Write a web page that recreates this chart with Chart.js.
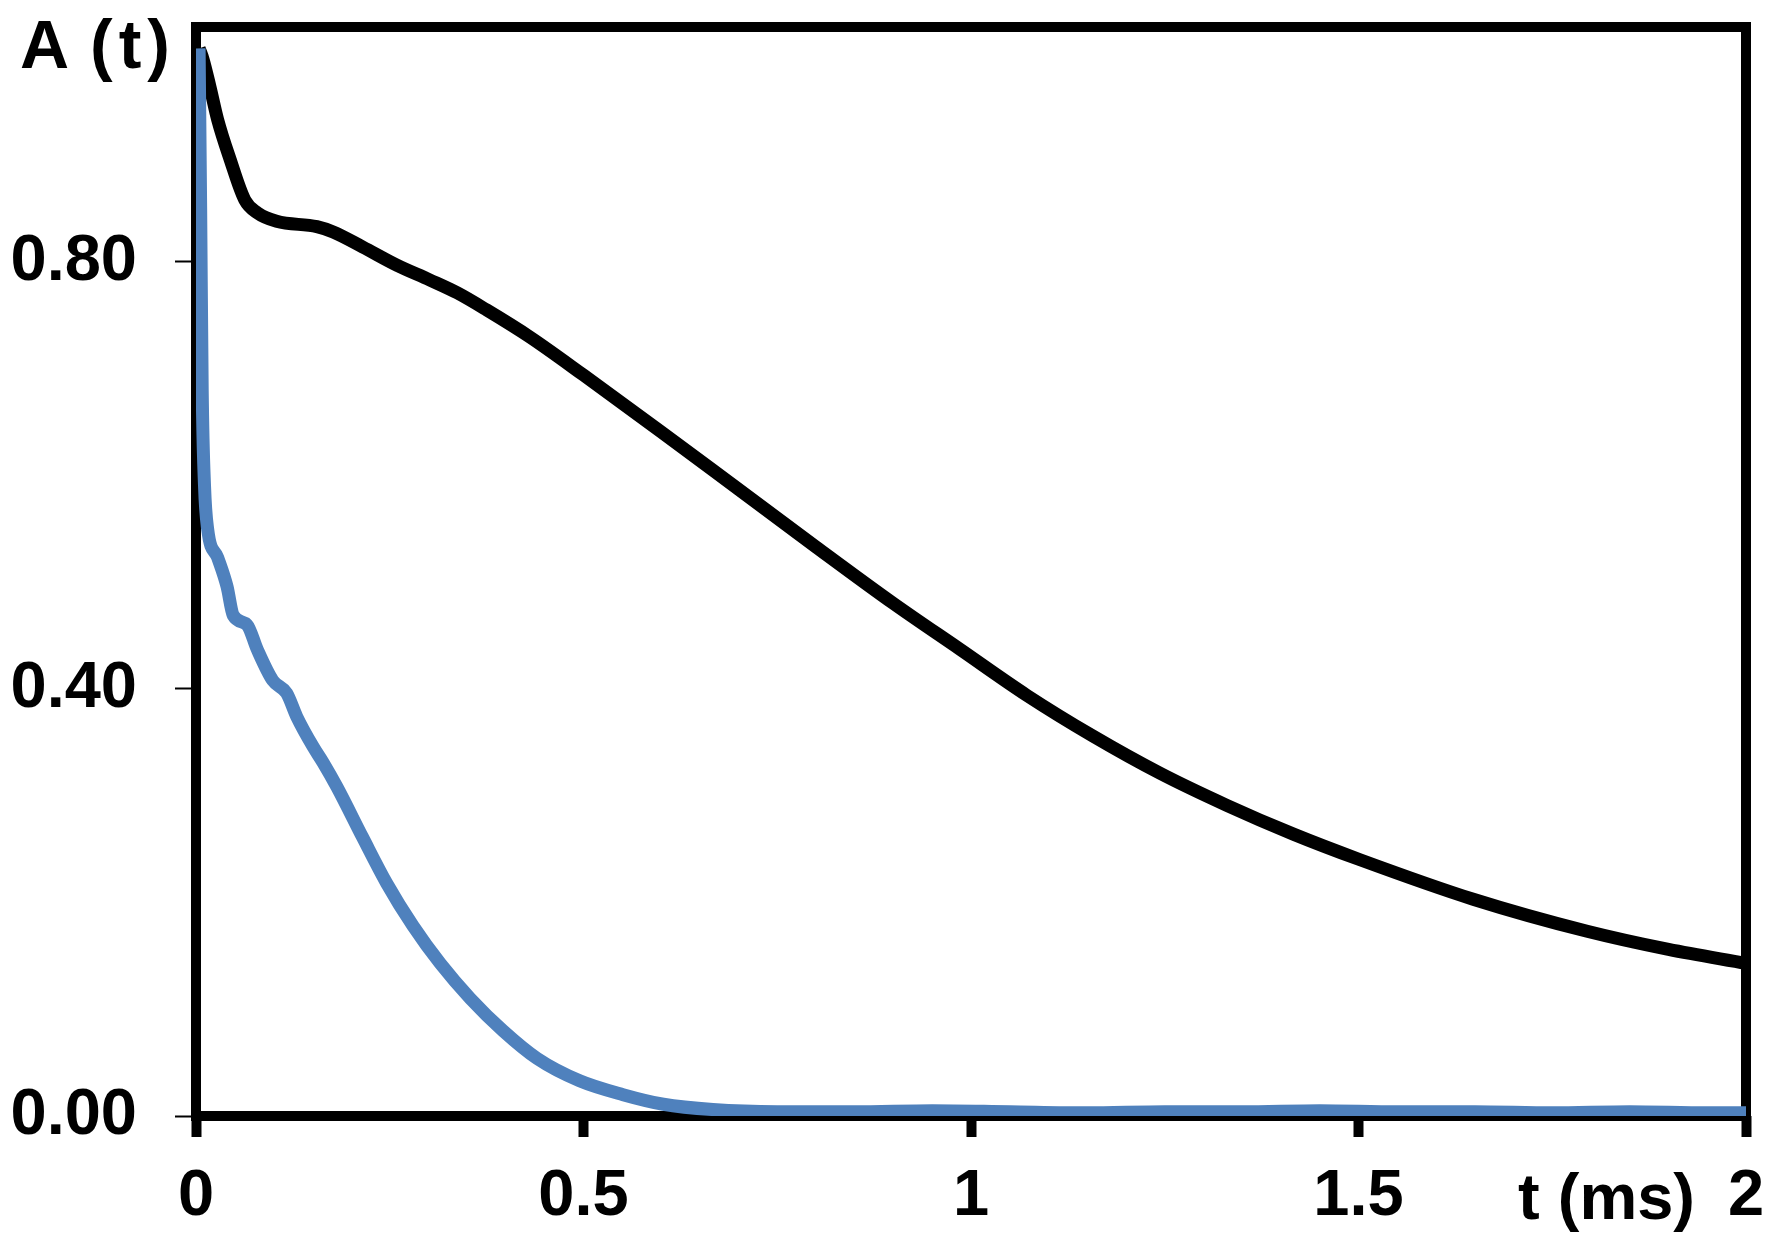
<!DOCTYPE html>
<html>
<head>
<meta charset="utf-8">
<script src="https://cdn.jsdelivr.net/npm/chart.js@4.4.1/dist/chart.umd.min.js"></script>
<style>
  html, body { margin: 0; padding: 0; background: #fff; }
  #wrap { width: 1776px; height: 1241px; }
</style>
</head>
<body>
<div id="wrap"><canvas id="decay-chart" width="1776" height="1241"></canvas></div>
<script>
  // black trace: slow decay with shoulder near 0.15 ms
  var blackTime = [0.004, 0.009, 0.018, 0.028, 0.044, 0.063, 0.079, 0.104, 0.156, 0.177, 0.215, 0.259, 0.302, 0.337, 0.375, 0.43, 0.50, 0.60, 0.70, 0.80, 0.90, 0.986, 1.072, 1.157, 1.244, 1.33, 1.416, 1.502, 1.648, 1.795, 1.9, 2.0];
  var blackAmp  = [1.0, 0.99, 0.964, 0.933, 0.896, 0.858, 0.846, 0.838, 0.833, 0.828, 0.814, 0.797, 0.783, 0.771, 0.755, 0.730, 0.694, 0.641, 0.587, 0.533, 0.480, 0.437, 0.394, 0.356, 0.321, 0.291, 0.264, 0.240, 0.203, 0.173, 0.156, 0.143];

  // blue trace: fast drop then decay to baseline
  var blueTime = [0.004, 0.006, 0.008, 0.011, 0.015, 0.028, 0.040, 0.048, 0.066, 0.079, 0.099, 0.117, 0.130, 0.151, 0.164, 0.182, 0.215, 0.246, 0.280, 0.315, 0.354, 0.396, 0.440, 0.495, 0.551, 0.603, 0.667,
                  0.75, 0.85, 0.95, 1.05, 1.15, 1.25, 1.35, 1.45, 1.55, 1.65, 1.75, 1.85, 1.95, 2.0];
  var blueAmp  = [1.0, 0.85, 0.68, 0.59, 0.55, 0.523, 0.496, 0.469, 0.460, 0.437, 0.408, 0.396, 0.374, 0.346, 0.331, 0.308, 0.261, 0.218, 0.178, 0.143, 0.110, 0.080, 0.054, 0.033, 0.020, 0.011, 0.006,
                  0.004, 0.004, 0.005, 0.004, 0.003, 0.004, 0.004, 0.005, 0.004, 0.004, 0.003, 0.004, 0.003, 0.003];

  var xTicks = [0, 0.5, 1, 1.5, 2];
  var xTickLabels = ['0', '0.5', '1', '1.5', '2'];
  var yTicks = [0, 0.4, 0.8];
  var yTickLabels = ['0.00', '0.40', '0.80'];

  var yTitle = 'A (t)';
  var xTitle = 't (ms)';

  function toPoints(xs, ys) {
    return xs.map(function (x, i) { return { x: x, y: ys[i] }; });
  }

  Chart.defaults.font.family = "'Liberation Sans', Arial, sans-serif";
  Chart.defaults.font.weight = 'bold';
  Chart.defaults.color = '#000';

  var framePlugin = {
    id: 'frame',
    beforeDatasetsDraw: function (chart) {
      var a = chart.chartArea, ctx = chart.ctx;
      ctx.save();
      ctx.strokeStyle = '#000';
      ctx.lineWidth = 10;
      ctx.strokeRect(a.left, a.top, a.right - a.left, a.bottom - a.top);
      ctx.restore();
    },
    afterDraw: function (chart) {
      var ctx = chart.ctx, xs = chart.scales.x;
      var parts = yTitle.split(' ');
      ctx.save();
      ctx.fillStyle = '#000';
      ctx.textBaseline = 'alphabetic';
      ctx.textAlign = 'left';
      ctx.font = "bold 68px 'Liberation Sans', Arial, sans-serif";
      ctx.fillText(parts[0], 20, 68);
      ctx.letterSpacing = '6px';
      ctx.fillText(parts[1], 90, 68);
      ctx.letterSpacing = '0px';
      ctx.font = "bold 65px 'Liberation Sans', Arial, sans-serif";
      ctx.textAlign = 'center';
      ctx.fillText(xTitle, xs.getPixelForValue(1.82), 1219);
      ctx.restore();
    }
  };

  var ctx = document.getElementById('decay-chart').getContext('2d');
  var decayChart = new Chart(ctx, {
    type: 'line',
    data: {
      datasets: [{
        data: toPoints(blueTime, blueAmp),
        borderColor: '#4F81BD',
        borderWidth: 13,
        pointRadius: 0,
        cubicInterpolationMode: 'monotone',
        fill: false
      }, {
        data: toPoints(blackTime, blackAmp),
        borderColor: '#000',
        borderWidth: 13,
        pointRadius: 0,
        cubicInterpolationMode: 'monotone',
        fill: false
      }]
    },
    options: {
      responsive: false,
      animation: false,
      devicePixelRatio: 1,
      layout: { padding: { top: 27, right: 30, left: 0, bottom: 0 } },
      plugins: { legend: { display: false }, tooltip: { enabled: false } },
      scales: {
        x: {
          type: 'linear',
          min: 0,
          max: 2,
          afterBuildTicks: function (scale) {
            scale.ticks = xTicks.map(function (v) { return { value: v }; });
          },
          afterFit: function (scale) {
            scale.height = 125;
            scale.paddingLeft = 0;
            scale.paddingRight = 0;
          },
          border: { display: false },
          grid: {
            drawOnChartArea: false,
            drawTicks: true,
            tickLength: 21,
            tickWidth: 10,
            tickColor: '#000'
          },
          ticks: {
            padding: 21,
            maxRotation: 0,
            font: { size: 65, weight: 'bold' },
            callback: function (v, i) { return xTickLabels[i]; }
          }
        },
        y: {
          type: 'linear',
          min: 0,
          max: 1.02,
          afterBuildTicks: function (scale) {
            scale.ticks = yTicks.map(function (v) { return { value: v }; });
          },
          afterFit: function (scale) {
            scale.width = 196;
            scale.paddingTop = 0;
            scale.paddingBottom = 0;
          },
          border: { display: false },
          grid: {
            drawOnChartArea: false,
            drawTicks: true,
            tickLength: 21,
            tickWidth: 2,
            tickColor: '#000'
          },
          ticks: {
            padding: 38,
            font: { size: 65, weight: 'bold' },
            callback: function (v, i) { return yTickLabels[i]; }
          }
        }
      }
    },
    plugins: [framePlugin]
  });
</script>
</body>
</html>
